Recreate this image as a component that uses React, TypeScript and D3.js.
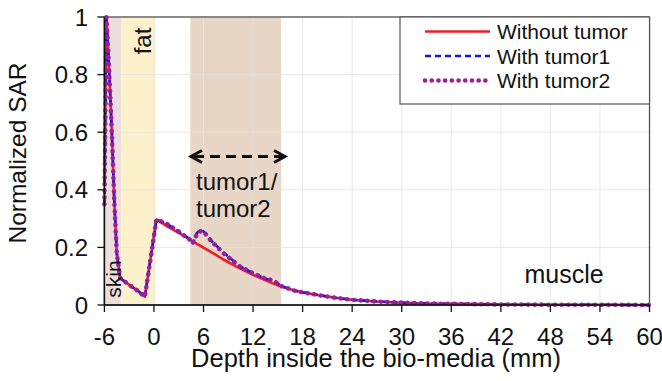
import React from "react";
import * as d3 from "d3";

const depth = [-6, -5.75, -5.4, -5.1, -4.8, -4.5, -4.1, -3, -2, -1.1, 0.3, 1.5, 3, 4.4, 4.7, 5.2, 5.7, 6.2, 7, 8.4, 10.4, 12, 13.6, 14.4, 15.4, 17, 18, 20, 22, 24, 27, 30, 33, 36, 42, 48, 54, 60];
const withoutTumor = [0.42, 1.0, 0.8, 0.6, 0.36, 0.18, 0.094, 0.07, 0.05, 0.029, 0.297, 0.275, 0.25, 0.226, 0.221, 0.212, 0.204, 0.196, 0.183, 0.158, 0.127, 0.105, 0.085, 0.075, 0.064, 0.05, 0.044, 0.034, 0.025, 0.018, 0.012, 0.008, 0.005, 0.004, 0.002, 0.001, 0.001, 0.0];
const withTumor1 = [0.35, 1.0, 0.8, 0.6, 0.36, 0.18, 0.094, 0.07, 0.05, 0.029, 0.297, 0.283, 0.255, 0.228, 0.214, 0.25, 0.262, 0.25, 0.222, 0.182, 0.135, 0.11, 0.09, 0.087, 0.066, 0.05, 0.044, 0.034, 0.025, 0.018, 0.012, 0.008, 0.005, 0.004, 0.002, 0.001, 0.001, 0.0];
const withTumor2 = [0.35, 1.0, 0.8, 0.6, 0.36, 0.18, 0.094, 0.07, 0.05, 0.029, 0.297, 0.283, 0.255, 0.226, 0.214, 0.246, 0.258, 0.248, 0.22, 0.18, 0.134, 0.11, 0.09, 0.086, 0.066, 0.05, 0.044, 0.034, 0.025, 0.018, 0.012, 0.008, 0.005, 0.004, 0.002, 0.001, 0.001, 0.0];

const xTicks = [-6, 0, 6, 12, 18, 24, 30, 36, 42, 48, 54, 60];
const yTicks = [0, 0.2, 0.4, 0.6, 0.8, 1];

const bands = [
  { name: "skin", from: -6, to: -4, color: "#ecdede" },
  { name: "fat", from: -4, to: 0.2, color: "#fdf1cc" },
  { name: "tumor", from: 4.4, to: 15.4, color: "#e8d6c7" },
];

const seriesNames = ["Without tumor", "With tumor1", "With tumor2"];

const W = 662, H = 381;
const left = 104.4, right = 649.5, top = 17, bottom = 305;
const FONT = "Liberation Sans, Arial, Helvetica, sans-serif";

export default function App() {
  const x = d3.scaleLinear().domain([-6, 60]).range([left, right]);
  const y = d3.scaleLinear().domain([0, 1]).range([bottom, top]);
  const line = (vals: number[]) =>
    d3.line<number>().x((_, i) => x(depth[i])).y((d) => y(d))(vals) || "";

  const styles = [
    { stroke: "#ee1c24", width: 2.6, dash: undefined as string | undefined, cap: "butt" },
    { stroke: "#1515e0", width: 2.6, dash: "6 4", cap: "butt" },
    { stroke: "#9a2098", width: 4.6, dash: "0.1 6.6", cap: "round" },
  ];
  const data = [withoutTumor, withTumor1, withTumor2];

  const arrowY = 156.5;
  const ax1 = 191, ax2 = 285;

  return (
    <svg width={W} height={H} style={{ position: "absolute", left: 0, top: 0, background: "#fff", fontFamily: FONT }}>
      {bands.map((b) => (
        <rect key={b.name} x={x(b.from)} y={top} width={x(b.to) - x(b.from)} height={bottom - top} fill={b.color} />
      ))}
      {yTicks.slice(1).map((t) => (
        <line key={"gy" + t} x1={left} x2={right} y1={y(t)} y2={y(t)} stroke="#e4e4e4" strokeWidth={1} opacity={0.8} />
      ))}
      {xTicks.slice(1).map((t) => (
        <line key={"gx" + t} x1={x(t)} x2={x(t)} y1={top} y2={bottom} stroke="#e4e4e4" strokeWidth={1} opacity={0.8} />
      ))}
      <rect x={left} y={top} width={right - left} height={bottom - top} fill="none" stroke="#555" strokeWidth={1.3} />

      {data.map((vals, i) => (
        <path key={i} d={line(vals)} fill="none" stroke={styles[i].stroke} strokeWidth={styles[i].width}
          strokeDasharray={styles[i].dash} strokeLinecap={styles[i].cap as any} strokeLinejoin="round" />
      ))}

      {/* axes */}
      <line x1={left} x2={right} y1={bottom} y2={bottom} stroke="#111" strokeWidth={1.5} />
      <line x1={left} x2={left} y1={top} y2={bottom} stroke="#111" strokeWidth={1.5} />
      {xTicks.map((t) => (
        <g key={"xt" + t}>
          <line x1={x(t)} x2={x(t)} y1={bottom} y2={bottom + 7} stroke="#111" strokeWidth={1.3} />
          <text x={x(t)} y={345} fontSize={24} textAnchor="middle" fill="#111">{t}</text>
        </g>
      ))}
      {yTicks.map((t) => (
        <g key={"yt" + t}>
          <line x1={left - 7} x2={left} y1={y(t)} y2={y(t)} stroke="#111" strokeWidth={1.3} />
          <text x={88} y={y(t) + 8.5} fontSize={24} textAnchor="end" fill="#111">{t}</text>
        </g>
      ))}
      <text x={376} y={367} fontSize={25.5} textAnchor="middle" fill="#111">Depth inside the bio-media (mm)</text>
      <text transform="translate(26,153) rotate(-90)" fontSize={24.5} textAnchor="middle" fill="#111">Normalized SAR</text>

      {/* region labels */}
      <text transform="translate(151,41) rotate(-90)" fontSize={24} textAnchor="middle" fill="#111">fat</text>
      <text transform="translate(120.5,279) rotate(-90)" fontSize={21} textAnchor="middle" fill="#111">skin</text>
      <text x={196} y={190} fontSize={24} fill="#111">tumor1/</text>
      <text x={196} y={217} fontSize={24} fill="#111">tumor2</text>
      <text x={564} y={283} fontSize={25} textAnchor="middle" fill="#111">muscle</text>

      {/* arrow */}
      <line x1={ax1 + 3} x2={ax2 - 3} y1={arrowY} y2={arrowY} stroke="#111" strokeWidth={3} strokeDasharray="10 6" />
      <path d={`M${ax1 + 11},${arrowY - 6} L${ax1},${arrowY} L${ax1 + 11},${arrowY + 6}`} fill="none" stroke="#111" strokeWidth={3} strokeLinejoin="miter" />
      <path d={`M${ax2 - 11},${arrowY - 6} L${ax2},${arrowY} L${ax2 - 11},${arrowY + 6}`} fill="none" stroke="#111" strokeWidth={3} strokeLinejoin="miter" />

      {/* legend */}
      <rect x={400} y={17} width={right - 400} height={87} fill="#fff" stroke="#555" strokeWidth={1.2} />
      {seriesNames.map((n, i) => {
        const ly = 31.5 + i * 24.5;
        return (
          <g key={n}>
            <line x1={425} x2={490} y1={ly} y2={ly} stroke={styles[i].stroke} strokeWidth={styles[i].width}
              strokeDasharray={styles[i].dash} strokeLinecap={styles[i].cap as any} />
            <text x={497} y={ly + 7.5} fontSize={21} fill="#111">{n}</text>
          </g>
        );
      })}
    </svg>
  );
}
